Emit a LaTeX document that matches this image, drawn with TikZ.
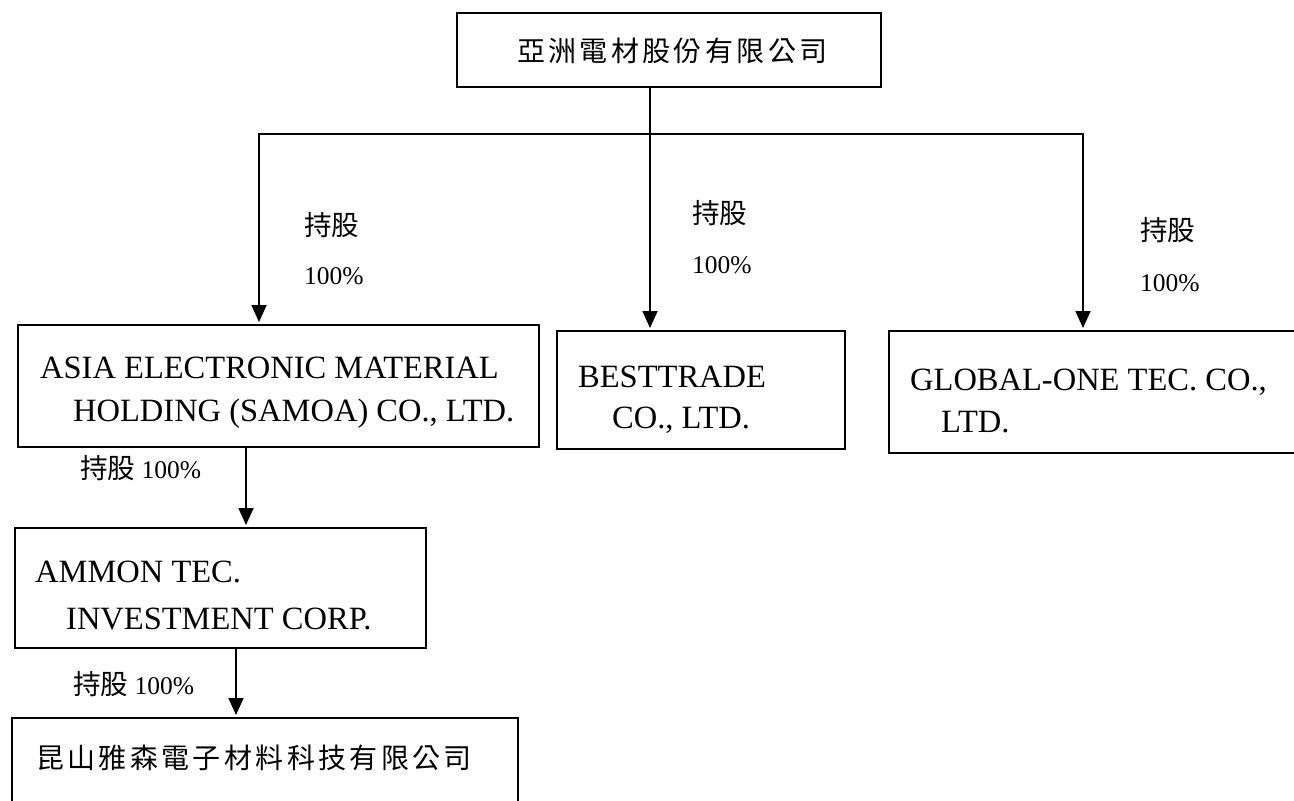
\documentclass[tikz,border=0pt]{standalone}
\usepackage{fontspec}
\setmainfont{Liberation Serif}
\newfontfamily\cjk{Noto Sans CJK TC}[Scale=1.08]
\newfontfamily\cjkw{Noto Sans CJK TC}[LetterSpace=12]
\usetikzlibrary{arrows.meta}
\begin{document}
\begin{tikzpicture}[x=1pt,y=-1pt,
  box/.style={draw,line width=1.7pt,inner sep=0pt,outer sep=0pt,anchor=north west},
  txt/.style={inner sep=0pt,anchor=base west,font=\fontsize{32.5}{36}\selectfont},
  lbl/.style={inner sep=0pt,anchor=base west,font=\fontsize{25.5}{28}\selectfont},
  ttl/.style={inner sep=0pt,anchor=base west,font=\fontsize{28}{32}\selectfont\cjkw},
  arr/.style={line width=1.7pt,-{Triangle[width=15pt,length=17pt]},shorten >=3pt}]
\useasboundingbox (0,0) rectangle (1294,801);
% boxes
\node[box,minimum width=424pt,minimum height=74pt] (top) at (457,13) {};
\node[box,minimum width=521pt,minimum height=122pt] (asia) at (18,325) {};
\node[box,minimum width=288pt,minimum height=118pt] (best) at (557,331) {};
\node[box,minimum width=420pt,minimum height=122pt] (glob) at (889,331) {};
\node[box,minimum width=411pt,minimum height=120pt] (ammon) at (15,528) {};
\node[box,minimum width=506pt,minimum height=120pt] (kun) at (12,718) {};
% texts
\node[ttl] (ttop) at (517,61) {亞洲電材股份有限公司};
\node[txt] (a1) at (40,378) {ASIA ELECTRONIC MATERIAL};
\node[txt] (a2) at (73,421) {HOLDING (SAMOA) CO., LTD.};
\node[txt] (b1) at (578,387) {BESTTRADE};
\node[txt] (b2) at (612,428) {CO., LTD.};
\node[txt] (g1) at (910,390) {GLOBAL-ONE TEC. CO.,};
\node[txt] (g2) at (941,432) {LTD.};
\node[txt] (m1) at (35,582) {AMMON TEC.};
\node[txt] (m2) at (66,629) {INVESTMENT CORP.};
\node[ttl] (tkun) at (36,768) {昆山雅森電子材料科技有限公司};
% labels
\node[lbl] (l1a) at (304,235) {\cjk 持股};
\node[lbl] (l1b) at (304,284) {100\%};
\node[lbl] (l2a) at (692,223) {\cjk 持股};
\node[lbl] (l2b) at (692,273) {100\%};
\node[lbl] (l3a) at (1140,240) {\cjk 持股};
\node[lbl] (l3b) at (1140,291) {100\%};
\node[lbl] (l4) at (80,478) {{\cjk 持股} 100\%};
\node[lbl] (l5) at (73,694) {{\cjk 持股} 100\%};
% connectors
\coordinate (hL) at (259,134);
\coordinate (hR) at (1083,134);
\coordinate (vM) at (650,134);
\coordinate (vA) at (246,0);
\coordinate (vB) at (236,0);
\draw[arr] (top.south -| vM) -- (best.north -| vM);
\draw[arr] (hR) -- (hL) -- (hL |- asia.north);
\draw[arr] (hL) -- (hR) -- (hR |- glob.north);
\draw[arr] (asia.south -| vA) -- (ammon.north -| vA);
\draw[arr] (ammon.south -| vB) -- (kun.north -| vB);
\end{tikzpicture}
\end{document}
